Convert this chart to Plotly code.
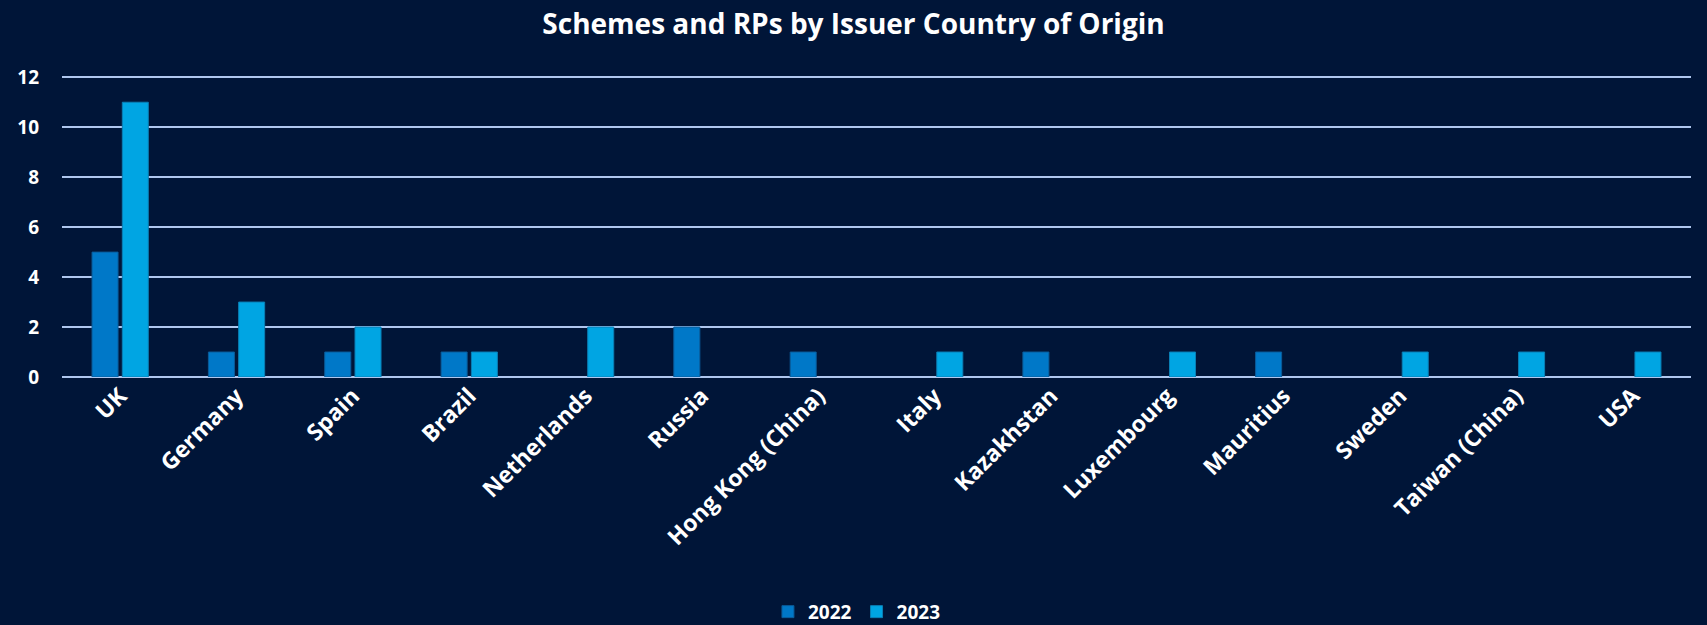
import plotly.graph_objects as go

categories = ["UK", "Germany", "Spain", "Brazil", "Netherlands", "Russia",
              "Hong Kong (China)", "Italy", "Kazakhstan", "Luxembourg",
              "Mauritius", "Sweden", "Taiwan (China)", "USA"]
values_2022 = [5, 1, 1, 1, None, 2, 1, None, 1, None, 1, None, None, None]
values_2023 = [11, 3, 2, 1, 2, None, None, 1, None, 1, None, 1, 1, 1]
y_ticks = [0, 2, 4, 6, 8, 10, 12]

BG = "#001538"
GRID = "#AFC6EE"
FONT = "Open Sans"

fig = go.Figure()
fig.add_trace(go.Bar(x=categories, y=values_2022, name="2022",
                     marker=dict(color="#0078C8", line=dict(color="#0A5C9A", width=1))))
fig.add_trace(go.Bar(x=categories, y=values_2023, name="2023",
                     marker=dict(color="#00A5E3", line=dict(color="#0A7FB5", width=1))))

fig.update_layout(
    width=1707, height=625,
    paper_bgcolor=BG, plot_bgcolor=BG,
    margin=dict(l=62, r=16, t=76, b=248, autoexpand=False),
    barmode="group", bargap=0.48, bargroupgap=0.14,
    title=dict(text="<b>Schemes and RPs by Issuer Country of Origin</b>",
               x=0.5, xanchor="center", y=0.962, yanchor="middle",
               font=dict(family=FONT, size=28, color="white")),
    font=dict(family=FONT, color="white"),
    showlegend=True,
    legend=dict(orientation="h", x=0.488, xanchor="center", y=-0.78, yanchor="middle",
                font=dict(family=FONT, size=19, color="white", weight="bold"),
                itemwidth=30, traceorder="normal"),
    xaxis=dict(tickangle=-45, tickfont=dict(family=FONT, size=23, color="white", weight="bold"),
               showgrid=False, showline=False, ticks="", zeroline=False, automargin=False),
    yaxis=dict(range=[0, 12.05], tickvals=y_ticks, showgrid=True, gridcolor=GRID, gridwidth=2,
               zeroline=True, zerolinecolor=GRID, zerolinewidth=2, showline=False,
               tickfont=dict(family=FONT, size=19, color="white", weight="bold"),
               ticks="", ticklabelstandoff=22, automargin=False),
)

fig.write_html("out.html", config={"displayModeBar": False},
               post_script="document.body.style.margin='0';document.body.style.overflow='hidden';")
